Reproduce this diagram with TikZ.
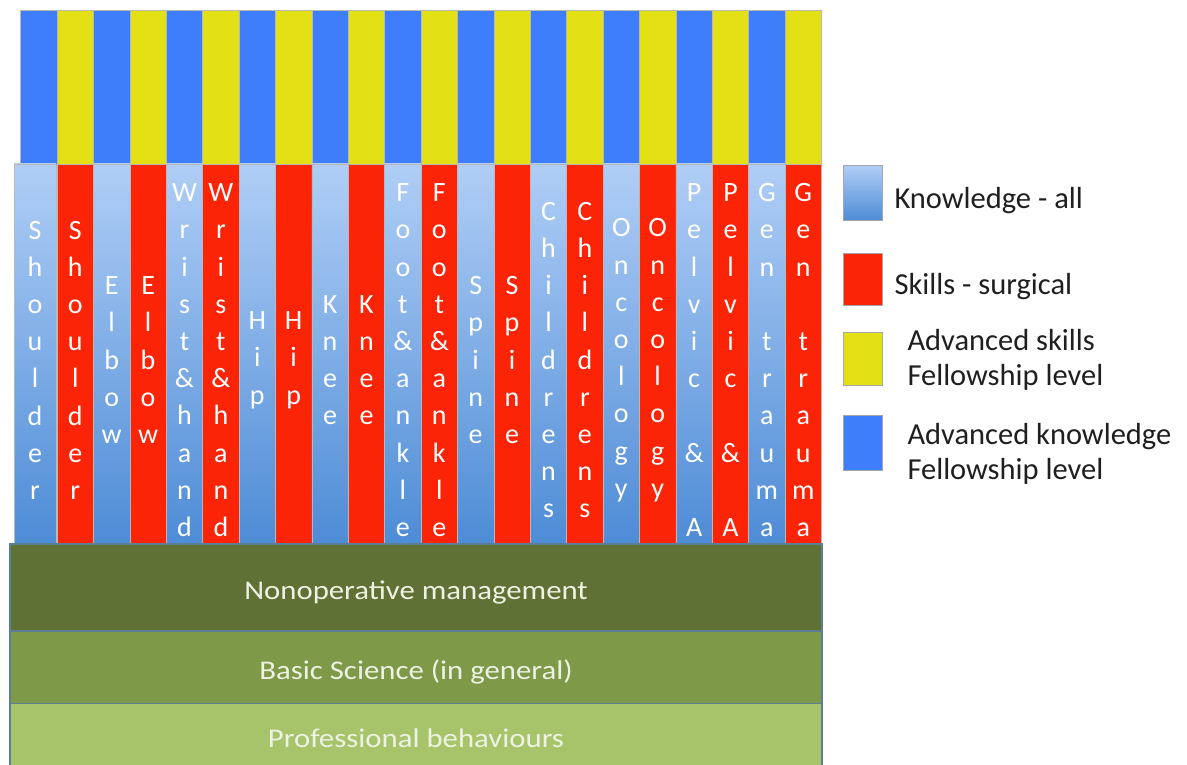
\documentclass[tikz,border=0pt]{standalone}
\usepackage{fontspec}
\setmainfont{Carlito}
\newfontfamily\bandfont[FakeStretch=1.14]{Carlito}
\usetikzlibrary{positioning}
\definecolor{advblue}{RGB}{62,126,250}
\definecolor{advyellow}{RGB}{228,224,22}
\definecolor{skillred}{RGB}{252,36,6}
\definecolor{kntop}{RGB}{176,206,246}
\definecolor{knbot}{RGB}{78,140,214}
\definecolor{greendark}{RGB}{95,113,52}
\definecolor{greenmid}{RGB}{126,153,72}
\definecolor{greenlight}{RGB}{168,196,106}
\definecolor{bandline}{RGB}{92,126,150}
\definecolor{bandtext}{RGB}{238,242,228}
% letters of a word set one under the other
\makeatletter
\newcommand\vstack[1]{\vbox{\@tfor\ltr:=#1\do{\hbox to 0pt{\hss\ltr\hss}}}}
\makeatother
\tikzset{
  bar/.style={draw=black!28, line width=0.6pt, inner sep=0pt, outer sep=0pt, minimum width=36.4pt},
  advknow/.style={bar, fill=advblue, minimum height=154pt},
  advskill/.style={bar, fill=advyellow, minimum height=154pt},
  knowcol/.style={bar, top color=kntop, bottom color=knbot, minimum height=379pt},
  skillcol/.style={bar, fill=skillred, minimum height=379pt},
  colword/.style={inner sep=0pt, text=white, font=\fontsize{28}{37.2}\selectfont},
  band/.style={draw=bandline, line width=1.2pt, inner sep=0pt, outer sep=0pt, minimum width=812pt,
    text height=23pt, text depth=0pt, text=bandtext, font=\bandfont\fontsize{27}{32}\selectfont},
  legbox/.style={draw=black!35, line width=0.6pt, minimum width=39pt, minimum height=55pt, inner sep=0pt},
  legtext/.style={anchor=west, inner sep=0pt, align=left, text=black!88, font=\fontsize{30.5}{35}\selectfont}
}

\begin{document}
\begin{tikzpicture}[x=1pt, y=-1pt]
  \useasboundingbox (0,0) rectangle (1187,765);

  % columns: advanced level on top, knowledge / skills below
  \foreach \idx/\nm in {0/Shoulder, 1/Elbow, 2/Wrist\&hand, 3/Hip, 4/Knee, 5/Foot\&ankle,
      6/Spine, 7/Childrens, 8/Oncology, 9/Pelvic~\&~A, 10/Gen~trauma}{
    \pgfmathsetmacro\xk{38.9+2*\idx*36.4}
    \pgfmathsetmacro\xs{\xk+36.4}
    \pgfmathsetmacro\kw{ifthenelse(\idx==0,42,36.4)}
    \pgfmathsetmacro\kx{ifthenelse(\idx==0,35,\xk)}
    \node[advknow] (ak\idx) at (\xk,87) {};
    \node[advskill] (as\idx) at (\xs,87) {};
    \node[knowcol, minimum width=\kw pt] (kn\idx) at (\kx,353.5) {};
    \node[skillcol] (sk\idx) at (\xs,353.5) {};
    \node[colword] (knw\idx) at ([yshift=-6.7pt]kn\idx.center) {\expandafter\vstack\expandafter{\nm}};
    \node[colword] (skw\idx) at ([yshift=-6.7pt]sk\idx.center) {\expandafter\vstack\expandafter{\nm}};
  }

  % foundation bands
  \node[band, fill=greendark, minimum height=87pt] (nonop) at (416,587.5) {Nonoperative management};
  \node[band, fill=greenmid, minimum height=72pt] (basic) at (416,667.5) {Basic Science (in general)};
  \node[band, fill=greenlight, minimum height=64pt] (prof) at (416,735.5) {Professional behaviours};

  % legend
  \node[legbox, top color=kntop, bottom color=knbot] (lgk) at (862.5,193) {};
  \node[legbox, fill=skillred, minimum height=52pt] (lgs) at (862.5,279) {};
  \node[legbox, fill=advyellow, minimum height=53pt] (lgy) at (862.5,358.5) {};
  \node[legbox, fill=advblue] (lgb) at (862.5,442.5) {};
  \node[legtext, right=12pt of lgk, yshift=-8pt] (tk) {Knowledge - all};
  \node[legtext, right=12pt of lgs, yshift=-8pt] (ts) {Skills - surgical};
  \node[legtext, right=25pt of lgy, yshift=-1pt] (ty) {Advanced skills\\Fellowship level};
  \node[legtext, right=25pt of lgb, yshift=-11pt] (tb) {Advanced knowledge\\Fellowship level};
\end{tikzpicture}
\end{document}
